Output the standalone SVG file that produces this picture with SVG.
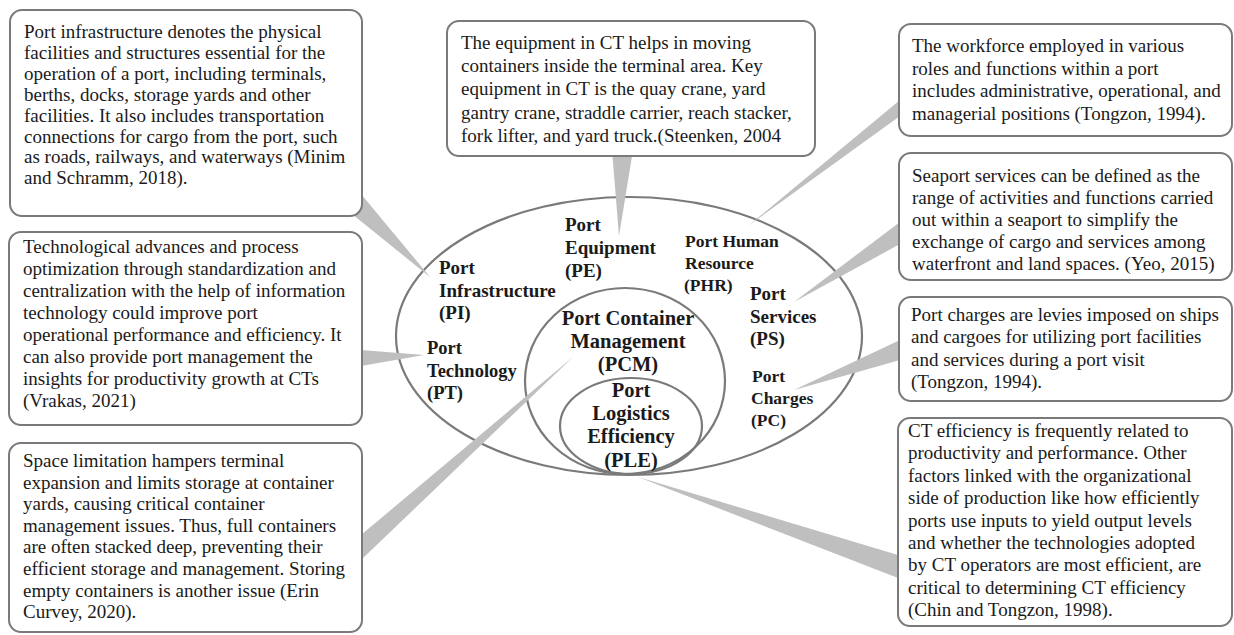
<svg xmlns="http://www.w3.org/2000/svg" width="1234" height="635" viewBox="0 0 1234 635">
<style>
.box{fill:#fff;stroke:#7a7a7a;stroke-width:2}
.txt{font-family:"Liberation Serif","Times New Roman",serif;font-size:19px;fill:#1a1a1a}
.lbl{font-family:"Liberation Serif","Times New Roman",serif;font-weight:bold;fill:#1a1a1a}
.wedge{fill:#bfbfbf}
.ell{fill:none;stroke:#7a7a7a;stroke-width:2.2}
</style>
<rect width="1234" height="635" fill="#fff"/>
<g id="ellipses">
<ellipse class="ell" cx="629" cy="336" rx="233" ry="139"/>
<ellipse class="ell" cx="625" cy="381" rx="100" ry="93"/>
<ellipse class="ell" cx="631" cy="426" rx="71" ry="48"/>
</g>
<g id="connectors">
<polygon class="wedge" points="352,214 361,194 430,277"/>
<polygon class="wedge" points="612,150 633,150 619,236"/>
<polygon class="wedge" points="900,100 900,116 748,226"/>
<polygon class="wedge" points="900,222 900,244 794,302"/>
<polygon class="wedge" points="900,340 900,360 794,390"/>
<polygon class="wedge" points="361,350 361,366 424,355"/>
<polygon class="wedge" points="361,535 361,560 573,357"/>
<polygon class="wedge" points="898,555 898,578 638,477"/>
</g>
<g id="box-pi">
<rect class="box" x="10" y="10" width="352" height="206" rx="12"/>
<text class="txt" x="24" y="38"><tspan x="24">Port infrastructure denotes the physical</tspan><tspan x="24" dy="20.9">facilities and structures essential for the</tspan><tspan x="24" dy="20.9">operation of a port, including terminals,</tspan><tspan x="24" dy="20.9">berths, docks, storage yards and other</tspan><tspan x="24" dy="20.9">facilities. It also includes transportation</tspan><tspan x="24" dy="20.9">connections for cargo from the port, such</tspan><tspan x="24" dy="20.9">as roads, railways, and waterways (Minim</tspan><tspan x="24" dy="20.9">and Schramm, 2018).</tspan></text>
</g>
<g id="box-pe">
<rect class="box" x="447" y="21" width="368" height="135" rx="12"/>
<text class="txt" x="461" y="49"><tspan x="461">The equipment in CT helps in moving</tspan><tspan x="461" dy="23.2">containers inside the terminal area. Key</tspan><tspan x="461" dy="23.2">equipment in CT is the quay crane, yard</tspan><tspan x="461" dy="23.2">gantry crane, straddle carrier, reach stacker,</tspan><tspan x="461" dy="23.2">fork lifter, and yard truck.(Steenken, 2004</tspan></text>
</g>
<g id="box-phr">
<rect class="box" x="899" y="24" width="333" height="112" rx="12"/>
<text class="txt" x="912" y="52"><tspan x="912">The workforce employed in various</tspan><tspan x="912" dy="22.7">roles and functions within a port</tspan><tspan x="912" dy="22.7">includes administrative, operational, and</tspan><tspan x="912" dy="22.7">managerial positions (Tongzon, 1994).</tspan></text>
</g>
<g id="box-ps">
<rect class="box" x="899" y="153" width="333" height="127" rx="12"/>
<text class="txt" x="912" y="182"><tspan x="912">Seaport services can be defined as the</tspan><tspan x="912" dy="22">range of activities and functions carried</tspan><tspan x="912" dy="22">out within a seaport to simplify the</tspan><tspan x="912" dy="22">exchange of cargo and services among</tspan><tspan x="912" dy="22">waterfront and land spaces. (Yeo, 2015)</tspan></text>
</g>
<g id="box-pc">
<rect class="box" x="899" y="297" width="333" height="104" rx="12"/>
<text class="txt" x="911" y="321"><tspan x="911">Port charges are levies imposed on ships</tspan><tspan x="911" dy="22.4">and cargoes for utilizing port facilities</tspan><tspan x="911" dy="22.4">and services during a port visit</tspan><tspan x="911" dy="22.4">(Tongzon, 1994).</tspan></text>
</g>
<g id="box-ple">
<rect class="box" x="898" y="418" width="334" height="208" rx="12"/>
<text class="txt" x="908" y="437"><tspan x="908">CT efficiency is frequently related to</tspan><tspan x="908" dy="22.4">productivity and performance. Other</tspan><tspan x="908" dy="22.4">factors linked with the organizational</tspan><tspan x="908" dy="22.4">side of production like how efficiently</tspan><tspan x="908" dy="22.4">ports use inputs to yield output levels</tspan><tspan x="908" dy="22.4">and whether the technologies adopted</tspan><tspan x="908" dy="22.4">by CT operators are most efficient, are</tspan><tspan x="908" dy="22.4">critical to determining CT efficiency</tspan><tspan x="908" dy="22.4">(Chin and Tongzon, 1998).</tspan></text>
</g>
<g id="box-pt">
<rect class="box" x="9" y="232" width="353" height="193" rx="12"/>
<text class="txt" x="23" y="253"><tspan x="23">Technological advances and process</tspan><tspan x="23" dy="22">optimization through standardization and</tspan><tspan x="23" dy="22">centralization with the help of information</tspan><tspan x="23" dy="22">technology could improve port</tspan><tspan x="23" dy="22">operational performance and efficiency. It</tspan><tspan x="23" dy="22">can also provide port management the</tspan><tspan x="23" dy="22">insights for productivity growth at CTs</tspan><tspan x="23" dy="22">(Vrakas, 2021)</tspan></text>
</g>
<g id="box-pcm">
<rect class="box" x="9" y="443" width="353" height="189" rx="12"/>
<text class="txt" x="23" y="467"><tspan x="23">Space limitation hampers terminal</tspan><tspan x="23" dy="21.6">expansion and limits storage at container</tspan><tspan x="23" dy="21.6">yards, causing critical container</tspan><tspan x="23" dy="21.6">management issues. Thus, full containers</tspan><tspan x="23" dy="21.6">are often stacked deep, preventing their</tspan><tspan x="23" dy="21.6">efficient storage and management. Storing</tspan><tspan x="23" dy="21.6">empty containers is another issue (Erin</tspan><tspan x="23" dy="21.6">Curvey, 2020).</tspan></text>
</g>
<g id="node-pi"><text class="lbl" font-size="19" x="439" y="274"><tspan x="439">Port</tspan><tspan x="439" dy="23">Infrastructure</tspan><tspan x="439" dy="22">(PI)</tspan></text></g>
<g id="node-pe"><text class="lbl" font-size="19" x="565" y="231"><tspan x="565">Port</tspan><tspan x="565" dy="22.5">Equipment</tspan><tspan x="565" dy="23">(PE)</tspan></text></g>
<g id="node-phr"><text class="lbl" font-size="17.5" x="685" y="247"><tspan x="685">Port Human</tspan><tspan x="685" dy="21.5">Resource</tspan><tspan x="684" dy="22.5">(PHR)</tspan></text></g>
<g id="node-ps"><text class="lbl" font-size="19" x="750" y="300"><tspan x="750">Port</tspan><tspan x="750" dy="23">Services</tspan><tspan x="750" dy="22">(PS)</tspan></text></g>
<g id="node-pt"><text class="lbl" font-size="18.5" x="427" y="354"><tspan x="427">Port</tspan><tspan x="427" dy="23">Technology</tspan><tspan x="427" dy="22">(PT)</tspan></text></g>
<g id="node-pc"><text class="lbl" font-size="17.5" x="752" y="382"><tspan x="752">Port</tspan><tspan x="751" dy="21.5">Charges</tspan><tspan x="751" dy="22.5">(PC)</tspan></text></g>
<g id="node-pcm"><text class="lbl" font-size="20.5" text-anchor="middle" x="628" y="325"><tspan x="628">Port Container</tspan><tspan x="628" dy="22.5">Management</tspan><tspan x="628" dy="23.5">(PCM)</tspan></text></g>
<g id="node-ple"><text class="lbl" font-size="20.5" text-anchor="middle" x="631" y="397"><tspan x="631">Port</tspan><tspan x="631" dy="23">Logistics</tspan><tspan x="631" dy="23">Efficiency</tspan><tspan x="631" dy="23.5">(PLE)</tspan></text></g>
</svg>
